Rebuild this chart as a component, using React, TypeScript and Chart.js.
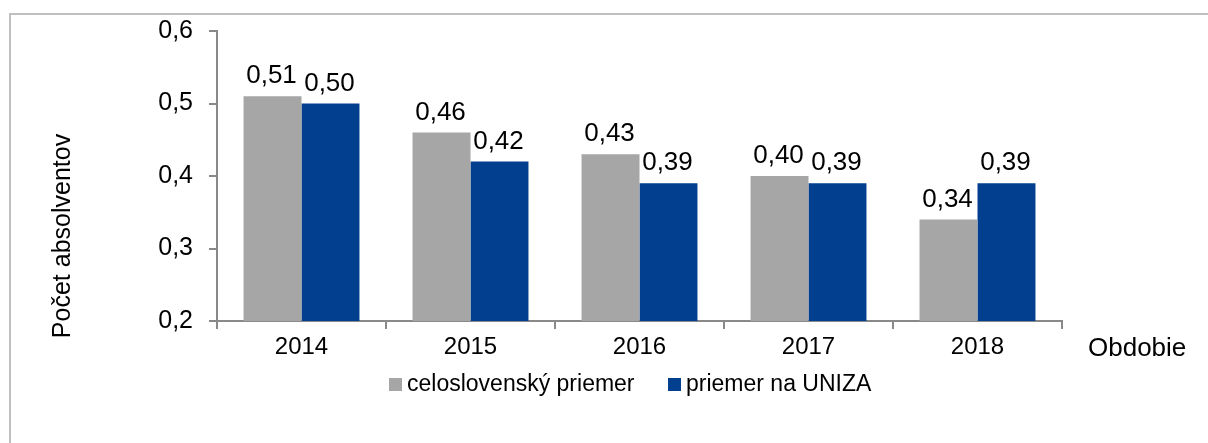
import React, { useEffect, useRef } from 'react';
import { Chart, registerables } from 'chart.js';

Chart.register(...registerables);

const categories = ['2014', '2015', '2016', '2017', '2018'];
const seriesNational = [0.51, 0.46, 0.43, 0.4, 0.34];
const seriesUniza = [0.5, 0.42, 0.39, 0.39, 0.39];
const seriesLabels = ['celoslovenský priemer', 'priemer na UNIZA'];
const yTicks = [0.2, 0.3, 0.4, 0.5, 0.6];
const yTitle = 'Počet absolventov';
const xTitle = 'Obdobie';

const GRAY = '#A6A6A6';
const BLUE = '#023F8F';
const AXIS = '#898989';
const FONT = '"Liberation Sans", Arial, sans-serif';

const fmt = (v: number, d: number) => v.toFixed(d).replace('.', ',');

const extrasPlugin = {
  id: 'extras',
  afterDatasetsDraw(chart: any) {
    const ctx = chart.ctx;
    ctx.save();
    ctx.fillStyle = '#000';
    ctx.font = `26px ${FONT}`;
    ctx.textAlign = 'center';
    ctx.textBaseline = 'alphabetic';
    chart.data.datasets.forEach((ds: any, di: number) => {
      const meta = chart.getDatasetMeta(di);
      meta.data.forEach((el: any, i: number) => {
        ctx.fillText(fmt(ds.data[i], 2), el.x - 1, el.y - 13);
      });
    });
    ctx.restore();
  },
  afterDraw(chart: any) {
    const ctx = chart.ctx;
    ctx.save();
    ctx.fillStyle = '#000';
    // y title
    ctx.font = `25px ${FONT}`;
    ctx.translate(63, 236);
    ctx.rotate(-Math.PI / 2);
    ctx.textAlign = 'center';
    ctx.textBaseline = 'middle';
    ctx.fillText(yTitle, 0, 0);
    ctx.restore();

    ctx.save();
    ctx.fillStyle = '#000';
    ctx.font = `26px ${FONT}`;
    ctx.textAlign = 'left';
    ctx.textBaseline = 'middle';
    ctx.fillText(xTitle, 1088, 349);

    // legend
    const colors = [GRAY, BLUE];
    const boxX = [389, 668];
    ctx.font = `23px ${FONT}`;
    seriesLabels.forEach((lab, i) => {
      ctx.fillStyle = colors[i];
      ctx.fillRect(boxX[i], 378, 13, 13);
      ctx.fillStyle = '#000';
      ctx.fillText(lab, boxX[i] + 18, 385);
    });
    ctx.restore();
  },
};

export default function App() {
  const ref = useRef<HTMLCanvasElement | null>(null);

  useEffect(() => {
    if (!ref.current) return;
    const chart = new Chart(ref.current, {
      type: 'bar',
      data: {
        labels: categories,
        datasets: [
          { label: seriesLabels[0], data: seriesNational, backgroundColor: GRAY, borderWidth: 0 },
          { label: seriesLabels[1], data: seriesUniza, backgroundColor: BLUE, borderWidth: 0 },
        ],
      },
      options: {
        responsive: false,
        animation: false,
        devicePixelRatio: 1,
        layout: { padding: { left: 0, top: 30, right: 146, bottom: 82 } },
        datasets: {
          bar: { categoryPercentage: 0.686, barPercentage: 1.0 },
        },
        plugins: {
          legend: { display: false },
          tooltip: { enabled: false },
        },
        scales: {
          x: {
            offset: true,
            grid: {
              offset: true,
              drawOnChartArea: false,
              drawTicks: true,
              tickLength: 8,
              color: AXIS,
              lineWidth: 2,
            },
            border: { display: true, color: AXIS, width: 2 },
            ticks: {
              color: '#000',
              font: { family: FONT, size: 24 },
              padding: 4,
            },
            afterFit: (s: any) => {
              s.height = 40;
            },
          },
          y: {
            min: 0.2,
            max: 0.6,
            afterBuildTicks: (s: any) => {
              s.ticks = yTicks.map((v) => ({ value: v }));
            },
            grid: {
              drawOnChartArea: false,
              drawTicks: true,
              tickLength: 8,
              color: AXIS,
              lineWidth: 2,
            },
            border: { display: true, color: AXIS, width: 2 },
            ticks: {
              color: '#000',
              font: { family: FONT, size: 25 },
              padding: 16,
              callback: (v: any) => fmt(Number(v), 1),
            },
            afterFit: (s: any) => {
              s.width = 217;
            },
          },
        },
      },
      plugins: [extrasPlugin],
    });
    return () => chart.destroy();
  }, []);

  return (
    <div
      style={{
        position: 'absolute',
        left: 0,
        top: 0,
        width: 1208,
        height: 443,
        overflow: 'hidden',
        background: '#fff',
      }}
    >
      <div
        style={{
          position: 'absolute',
          left: 9,
          top: 13,
          width: 1300,
          height: 500,
          borderTop: '2px solid #BFBFBF',
          borderLeft: '2px solid #BFBFBF',
        }}
      />
      <canvas
        ref={ref}
        width={1208}
        height={443}
        style={{ position: 'absolute', left: 0, top: 0, width: 1208, height: 443 }}
      />
    </div>
  );
}
